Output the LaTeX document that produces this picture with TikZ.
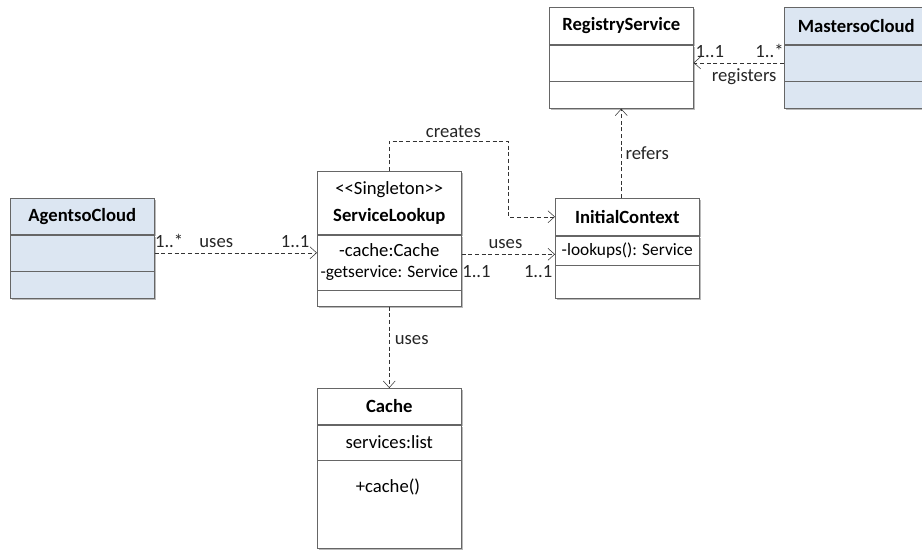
\documentclass[tikz,border=0pt]{standalone}
\usepackage{fontspec}
\setmainfont{Carlito}
\usetikzlibrary{arrows.meta,positioning,shadows}

\definecolor{cloudblue}{RGB}{220,230,242}

\begin{document}
\begin{tikzpicture}[x=0.75pt, y=-0.75pt,
    compart/.style={draw=black!60, fill=white, inner sep=0pt, minimum width=108pt, align=center, font=\fontsize{14}{17}\selectfont,
      drop shadow={shadow xshift=1.6pt, shadow yshift=-1.6pt, fill=black!45, opacity=0.6}},
    ctitle/.style={compart, font=\fontsize{14}{20}\selectfont\bfseries},
    cloud/.style={fill=cloudblue},
    dep/.style={draw=black!80, dash pattern=on 3pt off 2pt, -{Straight Barb[length=5pt, width=9pt]}},
    lab/.style={font=\fontsize{14}{17}\selectfont, inner sep=1pt, text=black!85}
  ]
    \useasboundingbox (0,0) rectangle (922,550);
    \clip (0,0) rectangle (922,550);

    % RegistryService
    \node[ctitle, anchor=north west, minimum height=27.75pt] (regtitle) at (549,7) {RegistryService};
    \node[compart, below=0pt of regtitle, minimum height=27pt] (regattr) {};
    \node[compart, below=0pt of regattr, minimum height=20.25pt] (regops) {};

    % MastersoCloud
    \node[ctitle, cloud, anchor=north west, minimum height=27.75pt] (mastitle) at (784,7) {MastersoCloud};
    \node[compart, cloud, below=0pt of mastitle, minimum height=27pt] (masattr) {};
    \node[compart, cloud, below=0pt of masattr, minimum height=20.25pt] (masops) {};

    % AgentsoCloud
    \node[ctitle, cloud, anchor=north west, minimum height=27pt] (agtitle) at (10,198) {AgentsoCloud};
    \node[compart, cloud, below=0pt of agtitle, minimum height=27pt] (agattr) {};
    \node[compart, cloud, below=0pt of agattr, minimum height=20.25pt] (agops) {};

    % ServiceLookup
    \node[ctitle, anchor=north west, minimum height=47.25pt] (sltitle) at (317,171) {{\mdseries <{}<Singleton>{}>}\\ServiceLookup};
    \node[compart, below=0pt of sltitle, minimum height=41.25pt] (slattr) {-cache:Cache\\[-1pt]{\fontsize{13}{15}\selectfont -getservice: Service}};
    \node[compart, below=0pt of slattr, minimum height=12pt] (slops) {};

    % InitialContext
    \node[ctitle, anchor=north west, minimum height=27.75pt] (ictitle) at (555,198) {InitialContext};
    \node[compart, below=0pt of ictitle, minimum height=21.75pt, font=\fontsize{13}{15}\selectfont] (icattr) {-lookups(): Service};
    \node[compart, below=0pt of icattr, minimum height=24.75pt] (icops) {};

    % Cache
    \node[ctitle, anchor=north west, minimum height=27pt] (cachetitle) at (317,388) {Cache};
    \node[compart, below=0pt of cachetitle, minimum height=26.25pt] (cacheattr) {services:list};
    \node[compart, below=0pt of cacheattr, minimum height=66pt] (cacheops) {};
    \node[font=\fontsize{14}{17}\selectfont, inner sep=0pt] (cachefn) at (388,487) {+cache()};

    \coordinate (cbend) at (508,141);

    \draw[dep] (agattr.east) -- (agattr.east -| slattr.west)
      node[lab, pos=0.09, above=2.75pt] (agmult) {1..*}
      node[lab, pos=0.38, above=2.75pt] (aguses) {uses}
      node[lab, pos=0.865, above=2.75pt] (slmultl) {1..1};
    \draw[dep] ([yshift=-3pt]icattr.west -| slattr.east) -- ([yshift=-3pt]icattr.west)
      node[lab, pos=0.47, above=2.75pt] (icuses) {uses}
      node[lab, pos=0.16, below=7pt] (slmultr) {1..1}
      node[lab, pos=0.82, below=7pt] (icmult) {1..1};
    \draw[dep] (sltitle.north) |- node[lab, pos=0.77, above=1.5pt] (creates) {creates} (cbend) |- (ictitle.west);
    \draw[dep] (ictitle.north -| regops.south) -- node[lab, pos=0.5, right=2pt] (refers) {refers} (regops.south);
    \draw[dep] (masattr.west) -- (masattr.west -| regattr.east)
      node[lab, pos=0.16, above=2.75pt] (masmult) {1..*}
      node[lab, pos=0.82, above=2.75pt] (regmult) {1..1}
      node[lab, pos=0.44, below=3pt] (registers) {registers};
    \draw[dep] (slops.south) -- node[lab, pos=0.41, right=3pt] (cacheuses) {uses} (cachetitle.north);
  \end{tikzpicture}
\end{document}
